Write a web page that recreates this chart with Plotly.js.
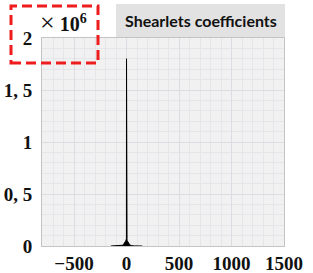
<!DOCTYPE html>
<html>
<head>
<meta charset="utf-8">
<script src="https://cdn.plot.ly/plotly-3.0.1.min.js"></script>
<style>html,body{margin:0;padding:0;background:#fff;}#chart{width:313px;height:273px;}</style>
</head>
<body>
<div id="chart"></div>
<script>
// Shearlet coefficient histogram-like curve
const xValues = [-150, -100, -75, -50, -40, -30, -20, -10, -5, -2, -1, 0, 1, 2, 5, 10, 20, 30, 40, 50, 75, 100, 150];
const yValues = [0, 400, 1000, 3000, 7000, 13000, 25000, 45000, 56000, 64000, 70000, 1800000, 70000, 64000, 56000, 45000, 25000, 13000, 7000, 3000, 1000, 400, 0];

const xTickVals = [-500, 0, 500, 1000, 1500];
const xTickText = ['\u2212500', '0', '500', '1000', '1500'];
const yTickVals = [0, 500000, 1000000, 1500000, 2000000];
const yTickText = ['0', '0, 5', '1', '1, 5', '2'];

const chartTitle = 'Shearlets coefficients';
const exponentText = '<span style="font-size:26px">\u00d7</span> <b>10</b><sup><b>6</b></sup>';

const tickFont = {family: 'Liberation Serif, DejaVu Serif, serif', size: 19, color: '#111', weight: 'bold'};

const trace = {
  x: xValues, y: yValues, type: 'scatter', mode: 'lines',
  line: {color: '#000', width: 1}, fill: 'tozeroy', fillcolor: '#000',
  hoverinfo: 'skip'
};

const L = 42, R = 29, T = 38, B = 27, W = 313, H = 273;
const pw = W - L - R, ph = H - T - B;
const px = v => (v - L) / pw;
const py = v => (H - B - v) / ph;

const layout = {
  width: W, height: H,
  margin: {l: L, r: R, t: T, b: B, pad: 0},
  paper_bgcolor: '#ffffff',
  plot_bgcolor: '#f1f1f2',
  showlegend: false,
  xaxis: {
    range: [-805, 1500], tickvals: xTickVals, ticktext: xTickText,
    showgrid: true, gridcolor: '#dcdce2', gridwidth: 1,
    minor: {dtick: 100, showgrid: true, gridcolor: '#e6e6ea', gridwidth: 1},
    zeroline: false, showline: true, linecolor: '#c4c4c4', linewidth: 1, mirror: true,
    ticks: '', tickfont: tickFont, ticklabelstandoff: 0
  },
  yaxis: {
    range: [0, 2000000], tickvals: yTickVals, ticktext: yTickText,
    showgrid: true, gridcolor: '#dcdce2', gridwidth: 1,
    minor: {dtick: 100000, showgrid: true, gridcolor: '#e6e6ea', gridwidth: 1},
    zeroline: false, showline: true, linecolor: '#c4c4c4', linewidth: 1, mirror: true,
    ticks: '', tickfont: tickFont, ticklabelstandoff: 5
  },
  shapes: [
    {type: 'rect', xref: 'paper', yref: 'paper', x0: px(116), x1: px(285), y0: py(37), y1: py(4),
     fillcolor: '#e2e2e2', line: {width: 0}, layer: 'above'},
    {type: 'rect', xref: 'paper', yref: 'paper', x0: px(11), x1: px(98), y0: py(63), y1: py(6),
     fillcolor: 'rgba(0,0,0,0)', line: {color: '#ee1c1c', width: 3, dash: '10px,5px'}, layer: 'above'}
  ],
  annotations: [
    {text: chartTitle, xref: 'paper', yref: 'paper', x: px(201), y: py(20), xanchor: 'center', yanchor: 'middle',
     showarrow: false, font: {family: 'Lato, Open Sans, sans-serif', size: 16, color: '#111', weight: 'bold'}},
    {text: exponentText, xref: 'paper', yref: 'paper', x: px(63), y: py(22), xanchor: 'center', yanchor: 'middle',
     showarrow: false, font: {family: 'Liberation Serif, DejaVu Serif, serif', size: 20, color: '#111'}}
  ]
};

Plotly.newPlot('chart', [trace], layout, {displayModeBar: false, staticPlot: true});
</script>
</body>
</html>
